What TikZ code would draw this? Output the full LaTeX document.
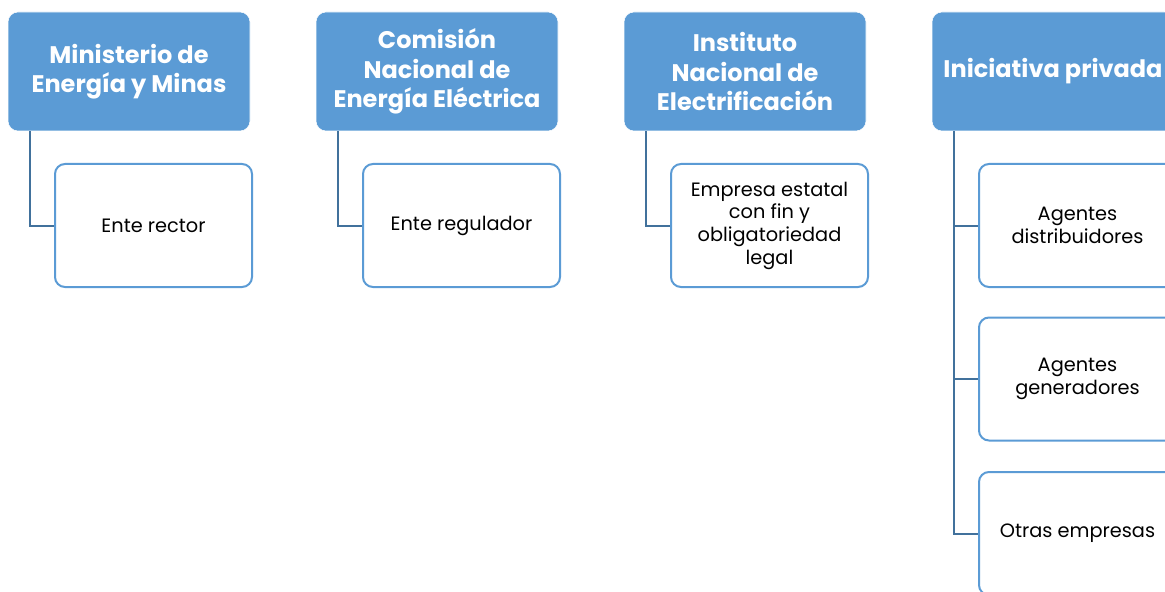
\documentclass[tikz,border=0pt]{standalone}
\usepackage{fontspec}
\setmainfont{Poppins}
\usetikzlibrary{calc}
\definecolor{boxblue}{HTML}{5B9BD5}
\definecolor{linkblue}{HTML}{41719C}
\tikzset{
  head/.style={rectangle, rounded corners=7.5pt, fill=boxblue, draw=white, text=white,
    font=\bfseries\fontsize{18}{22}\selectfont, align=center, inner sep=0pt,
    minimum width=181.5pt, minimum height=89.25pt},
  leaf/.style={rectangle, rounded corners=7.5pt, draw=boxblue, line width=1.5pt, fill=white,
    font=\fontsize{14.5}{17}\selectfont, align=center, inner sep=0pt,
    minimum width=147.75pt, minimum height=92.25pt},
  link/.style={draw=linkblue, line width=1.5pt}
}
% one unit: head node, child node, elbow link
\def\orgunit(#1,#2,#3,#4){
  \node[head] (#1) at (#2,71.5) {#3};
  \node[leaf] (#1_ch) at (#2+24.5,225.5) {#4};
  \draw[link] ([xshift=16.5pt]#1.south west) |- (#1_ch.west);
}
\begin{document}
\begin{tikzpicture}[x=0.75pt,y=-0.75pt]
\useasboundingbox (0,0) rectangle (1165,592);
\clip (0,0) rectangle (1165,592);
\orgunit(mem,129,Ministerio de\\Energía y Minas,Ente rector)
\orgunit(cnee,437,Comisión\\Nacional de\\Energía Eléctrica,Ente regulador)
\orgunit(inde,745,Instituto\\Nacional de\\Electrificación,Empresa estatal\\con fin y\\obligatoriedad\\legal)
% private sector has three children
\node[head] (ip) at (1053,71.5) {Iniciativa privada};
\node[leaf] (ip_dist) at (1077.5,225.5) {Agentes\\distribuidores};
\node[leaf] (ip_gen) at (1077.5,379) {Agentes\\generadores};
\node[leaf] (ip_otr) at (1077.5,533.5) {Otras empresas};
\draw[link] ([xshift=16.5pt]ip.south west) |- (ip_otr.west);
\draw[link] ([xshift=16.5pt]ip.south west) |- (ip_dist.west);
\draw[link] ([xshift=16.5pt]ip.south west) |- (ip_gen.west);
\end{tikzpicture}
\end{document}
